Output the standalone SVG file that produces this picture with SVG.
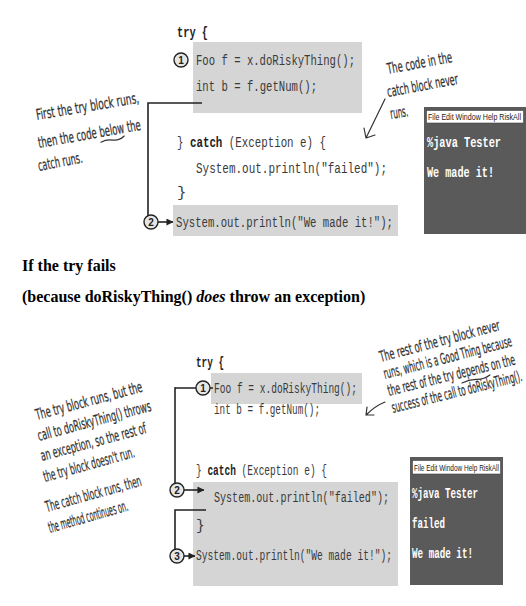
<svg xmlns="http://www.w3.org/2000/svg" width="526" height="606" viewBox="0 0 526 606">
  <style>
    .code { font-family: "Liberation Mono", "DejaVu Sans Mono", monospace; fill: #3a3a3a; }
    .top { font-size: 15.5px; }
    .bot { font-size: 14.5px; }
    .kw { font-weight: bold; fill: #1e1e1e; }
    .box { fill: #d5d5d5; }
    .term { fill: #5a5a5a; }
    .menu { fill: #ffffff; stroke: #444; stroke-width: 0.6; }
    .menutext { font-family: "Liberation Sans", "DejaVu Sans", sans-serif; font-size: 8.5px; fill: #222; }
    .termtext { font-family: "Liberation Mono", "DejaVu Sans Mono", monospace; font-weight: bold; font-size: 14px; fill: #ffffff; }
    .hand { font-family: "DejaVu Sans", "Liberation Sans", sans-serif; font-stretch: condensed; font-size: 15px; fill: #333; stroke: #333; stroke-width: 0.25; }
    .ink { fill: none; stroke: #333; stroke-width: 1.2; stroke-linecap: round; stroke-linejoin: round; }
    .wire { fill: none; stroke: #222; stroke-width: 1.6; }
    .badge circle { fill: #e6e6e6; stroke: #222; stroke-width: 1.4; }
    .badge text { font-family: "Liberation Sans", "DejaVu Sans", sans-serif; font-weight: bold; font-size: 10px; text-anchor: middle; fill: #222; }
    .heading { font-family: "Liberation Serif", "Times New Roman", serif; font-weight: bold; font-size: 16px; fill: #000; }
  </style>
  <defs>
    <marker id="head" viewBox="0 0 8 8" refX="7.5" refY="4" markerWidth="7" markerHeight="7" markerUnits="userSpaceOnUse" orient="auto">
      <path d="M0,0 L8,4 L0,8 Z" fill="#222"/>
    </marker>
  </defs>

  <!-- ===== Case 1: the try succeeds ===== -->
  <g id="code-success">
    <rect class="box" x="193" y="42" width="169" height="71"/>
    <rect class="box" x="173" y="205" width="225" height="31"/>
    <text class="code top kw" x="177" y="37" textLength="31" lengthAdjust="spacingAndGlyphs">try {</text>
    <text class="code top" x="196" y="65" textLength="159" lengthAdjust="spacingAndGlyphs">Foo f = x.doRiskyThing();</text>
    <text class="code top" x="196" y="91" textLength="121" lengthAdjust="spacingAndGlyphs">int b = f.getNum();</text>
    <text class="code top" x="177" y="147" textLength="149" lengthAdjust="spacingAndGlyphs">} <tspan class="kw">catch</tspan> (Exception e) {</text>
    <text class="code top" x="196" y="173" textLength="191" lengthAdjust="spacingAndGlyphs">System.out.println("failed");</text>
    <text class="code top" x="177" y="197">}</text>
    <text class="code top" x="176" y="227" textLength="217" lengthAdjust="spacingAndGlyphs">System.out.println("We made it!");</text>
  </g>

  <g id="connectors-success">
    <path class="wire" d="M202,103 H148 V215.5"/>
    <path class="wire" d="M158,222 H173" marker-end="url(#head)"/>
  </g>

  <g id="step1-success" class="badge">
    <circle cx="181" cy="60" r="7"/>
    <text x="181" y="63.6">1</text>
  </g>
  <g id="step2-success" class="badge">
    <circle cx="151" cy="222" r="7"/>
    <text x="151" y="225.6">2</text>
  </g>

  <g id="note-flow-success">
    <text class="hand" transform="translate(37,120) rotate(-9.5)" textLength="104" lengthAdjust="spacingAndGlyphs">First the try block runs,</text>
    <g transform="translate(39,148) rotate(-10)">
      <text class="hand" textLength="104" lengthAdjust="spacingAndGlyphs">then the code below the</text>
      <path class="ink" d="M62,5 q6,-2 12,0 t12,-2"/>
    </g>
    <text class="hand" transform="translate(39,171) rotate(-11)" textLength="45" lengthAdjust="spacingAndGlyphs">catch runs.</text>
  </g>

  <g id="note-catch-skipped">
    <text class="hand" transform="translate(388,74) rotate(-10.5)" textLength="66" lengthAdjust="spacingAndGlyphs">The code in the</text>
    <text class="hand" transform="translate(388,97) rotate(-10.5)" textLength="72" lengthAdjust="spacingAndGlyphs">catch block never</text>
    <text class="hand" transform="translate(391,119) rotate(-9)" textLength="18" lengthAdjust="spacingAndGlyphs">runs.</text>
    <path class="ink" d="M385,99 L366,138 M364,128 L366,138 L375,135"/>
  </g>

  <g id="console-success">
    <rect class="term" x="424" y="107" width="102" height="127"/>
    <rect class="menu" x="426.5" y="110.5" width="97" height="12.5"/>
    <text class="menutext" x="428" y="120" textLength="93" lengthAdjust="spacingAndGlyphs">File Edit Window Help RiskAll</text>
    <text class="termtext" x="427" y="147" textLength="74" lengthAdjust="spacingAndGlyphs">%java Tester</text>
    <text class="termtext" x="427" y="177" textLength="67" lengthAdjust="spacingAndGlyphs">We made it!</text>
  </g>

  <!-- ===== Heading ===== -->
  <g id="heading">
    <text class="heading" x="22" y="271">If the try fails</text>
    <text class="heading" x="22" y="302">(because doRiskyThing() <tspan font-style="italic">does</tspan> throw an exception)</text>
  </g>

  <!-- ===== Case 2: the try throws ===== -->
  <g id="code-failure">
    <rect class="box" x="211" y="373" width="151" height="31"/>
    <rect class="box" x="193" y="482" width="205" height="104"/>
    <text class="code bot kw" x="196" y="367" textLength="28" lengthAdjust="spacingAndGlyphs">try {</text>
    <text class="code bot" x="214" y="393" textLength="143" lengthAdjust="spacingAndGlyphs">Foo f = x.doRiskyThing();</text>
    <text class="code bot" x="214" y="414" textLength="106" lengthAdjust="spacingAndGlyphs">int b = f.getNum();</text>
    <text class="code bot" x="196" y="475" textLength="131" lengthAdjust="spacingAndGlyphs">} <tspan class="kw">catch</tspan> (Exception e) {</text>
    <text class="code bot" x="214" y="502" textLength="175" lengthAdjust="spacingAndGlyphs">System.out.println("failed");</text>
    <text class="code bot" x="196" y="530">}</text>
    <text class="code bot" x="196" y="560" textLength="196" lengthAdjust="spacingAndGlyphs">System.out.println("We made it!");</text>
  </g>

  <g id="connectors-failure">
    <path class="wire" d="M175,388 H196 M210,388 H213"/>
    <path class="wire" d="M175,387.2 V483.5"/>
    <path class="wire" d="M184,490 H204" marker-end="url(#head)"/>
    <path class="wire" d="M206,510 H175 V549.5"/>
    <path class="wire" d="M184,556 H195" marker-end="url(#head)"/>
  </g>

  <g id="step1-failure" class="badge">
    <circle cx="203" cy="388" r="7"/>
    <text x="203" y="391.6">1</text>
  </g>
  <g id="step2-failure" class="badge">
    <circle cx="177" cy="490" r="7"/>
    <text x="177" y="493.6">2</text>
  </g>
  <g id="step3-failure" class="badge">
    <circle cx="177" cy="556" r="7"/>
    <text x="177" y="559.6">3</text>
  </g>

  <g id="note-flow-failure">
    <text class="hand" transform="translate(37,420) rotate(-15)" textLength="110" lengthAdjust="spacingAndGlyphs">The try block runs, but the</text>
    <text class="hand" transform="translate(39,441) rotate(-15)" textLength="117" lengthAdjust="spacingAndGlyphs">call to doRiskyThing() throws</text>
    <text class="hand" transform="translate(42,461) rotate(-15)" textLength="109" lengthAdjust="spacingAndGlyphs">an exception, so the rest of</text>
    <text class="hand" transform="translate(45,482) rotate(-15.5)" textLength="94" lengthAdjust="spacingAndGlyphs">the try block doesn't run.</text>
    <text class="hand" transform="translate(47,512) rotate(-15.5)" textLength="99" lengthAdjust="spacingAndGlyphs">The catch block runs, then</text>
    <text class="hand" transform="translate(50,533) rotate(-16)" textLength="82" lengthAdjust="spacingAndGlyphs">the method continues on.</text>
  </g>

  <g id="note-rest-skipped">
    <text class="hand" transform="translate(381,362) rotate(-15)" textLength="124" lengthAdjust="spacingAndGlyphs">The rest of the try block never</text>
    <text class="hand" transform="translate(385,379) rotate(-14.5)" textLength="132" lengthAdjust="spacingAndGlyphs">runs, which is a Good Thing because</text>
    <g transform="translate(389,396) rotate(-14)">
      <text class="hand" textLength="131" lengthAdjust="spacingAndGlyphs">the rest of the try depends on the</text>
      <path class="ink" d="M74,5 q8,-2 15,0 t14,-1"/>
    </g>
    <text class="hand" transform="translate(393,413) rotate(-14)" textLength="134" lengthAdjust="spacingAndGlyphs">success of the call to doRiskyThing().</text>
    <path class="ink" d="M385,402 Q375,406 366,415 M367,407 L366,415 L374,415"/>
  </g>

  <g id="console-failure">
    <rect class="term" x="410" y="457" width="93" height="128"/>
    <rect class="menu" x="412.5" y="460.5" width="88" height="13.5"/>
    <text class="menutext" x="414" y="471" textLength="85" lengthAdjust="spacingAndGlyphs">File Edit Window Help RiskAll</text>
    <text class="termtext" x="412" y="498" textLength="66" lengthAdjust="spacingAndGlyphs">%java Tester</text>
    <text class="termtext" x="412" y="528" textLength="33" lengthAdjust="spacingAndGlyphs">failed</text>
    <text class="termtext" x="412" y="558" textLength="61" lengthAdjust="spacingAndGlyphs">We made it!</text>
  </g>
</svg>
